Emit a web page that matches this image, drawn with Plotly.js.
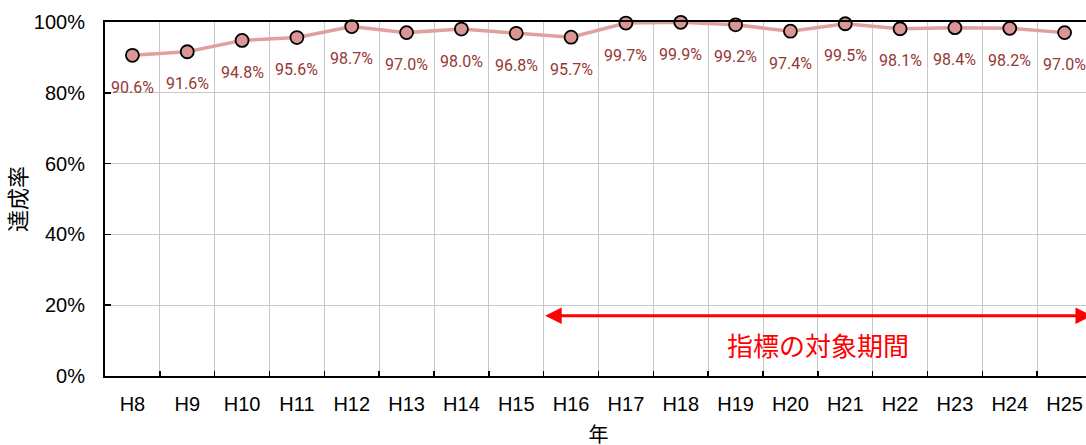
<!DOCTYPE html>
<html>
<head>
<meta charset="utf-8">
<script src="https://cdn.plot.ly/plotly-3.0.1.min.js"></script>
<style>
html,body{margin:0;padding:0;overflow:hidden;background:#fff;}
#chart{width:1100px;height:460px;}
</style>
</head>
<body>
<div id="chart"></div>
<script>
const years = ["H8","H9","H10","H11","H12","H13","H14","H15","H16","H17","H18","H19","H20","H21","H22","H23","H24","H25"];
const rates = [90.6,91.6,94.8,95.6,98.7,97.0,98.0,96.8,95.7,99.7,99.9,99.2,97.4,99.5,98.1,98.4,98.2,97.0];
const periodLabel = "指標の対象期間";
const periodStart = 7.5;   // boundary before H16 (category index)
const periodEnd = 17.5;    // boundary after H25
const periodLevel = 17;    // arrow height in %

const trace = {
  x: years,
  y: rates,
  type: "scatter",
  mode: "lines+markers",
  line: {color: "#E0A09E", width: 3.5},
  marker: {size: 13, color: "#D99694", line: {color: "#000", width: 1.8}},
  cliponaxis: false,
  hoverinfo: "skip"
};

const labelAnnotations = years.map((c, i) => ({
  x: c, y: rates[i], xref: "x", yref: "y",
  text: rates[i].toFixed(1) + "%",
  showarrow: false, yshift: -32,
  font: {family: "Roboto, 'Liberation Sans', sans-serif", size: 16, color: "#953735"}
}));

const layout = {
  width: 1100, height: 460,
  margin: {l: 105, r: 8, t: 22, b: 84},
  paper_bgcolor: "#fff", plot_bgcolor: "#fff",
  showlegend: false,
  font: {family: "'Liberation Sans', Arial, sans-serif", color: "#000"},
  xaxis: {
    type: "category",
    tickson: "boundaries",
    showgrid: true, gridcolor: "#C8C8C8", gridwidth: 1,
    showline: true, linecolor: "#000", linewidth: 2, mirror: true,
    ticks: "inside", ticklen: 5, tickcolor: "#000", tickwidth: 1.5,
    ticklabelstandoff: 9,
    tickfont: {size: 20, family: "'Liberation Sans', Arial, sans-serif"},
    title: {text: "年", font: {size: 20, family: "'Noto Sans CJK JP', sans-serif"}, standoff: 14},
    range: [-0.5, 17.5],
    automargin: false,
    fixedrange: true
  },
  yaxis: {
    range: [0, 100], dtick: 20, ticksuffix: "%",
    showgrid: true, gridcolor: "#C8C8C8", gridwidth: 1,
    showline: true, linecolor: "#000", linewidth: 2,
    ticks: "inside", ticklen: 6, tickcolor: "#000", tickwidth: 1.5,
    ticklabelstandoff: 14,
    tickfont: {size: 20, family: "'Liberation Sans', Arial, sans-serif"},
    title: {text: "達成率", font: {size: 22, family: "'Noto Sans CJK JP', sans-serif"}, standoff: 4},
    zeroline: false,
    automargin: false,
    fixedrange: true
  },
  annotations: labelAnnotations.concat([
    {
      x: periodEnd, y: periodLevel, ax: periodStart, ay: periodLevel,
      xref: "x", yref: "y", axref: "x", ayref: "y",
      text: "", showarrow: true, arrowside: "end+start",
      arrowhead: 2, arrowsize: 1.1, arrowwidth: 3, arrowcolor: "#FF0000"
    },
    {
      x: (periodStart + periodEnd) / 2, y: periodLevel, xref: "x", yref: "y",
      text: periodLabel, showarrow: false, yshift: -29,
      font: {family: "'Noto Sans CJK JP', sans-serif", size: 26, color: "#FF0000"}
    }
  ])
};

Plotly.newPlot("chart", [trace], layout, {displayModeBar: false, staticPlot: true});
</script>
</body>
</html>
